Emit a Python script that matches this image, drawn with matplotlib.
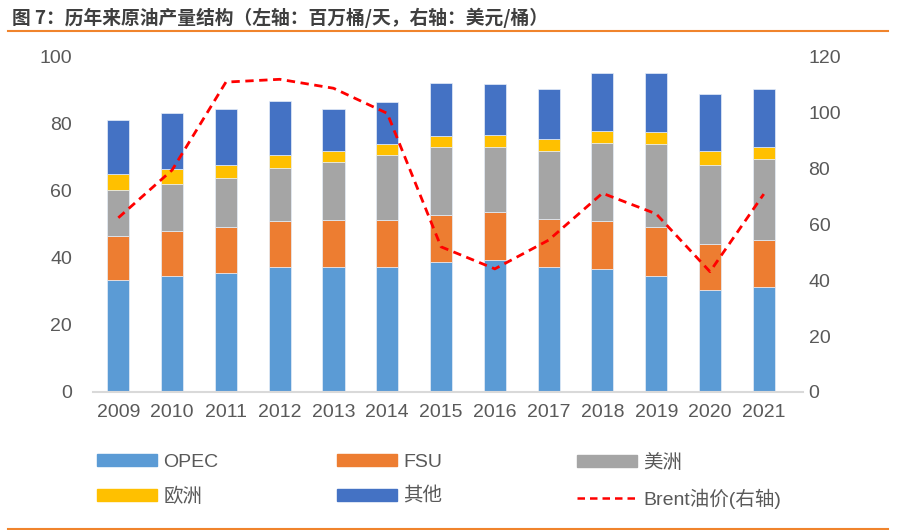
import matplotlib
matplotlib.use("Agg")
import matplotlib.pyplot as plt
from matplotlib.patches import Patch
from matplotlib.lines import Line2D
import numpy as np

plt.rcParams['font.family'] = ['Liberation Sans', 'Noto Sans CJK SC', 'DejaVu Sans']

years = ['2009', '2010', '2011', '2012', '2013', '2014', '2015',
         '2016', '2017', '2018', '2019', '2020', '2021']
opec = [33.3, 34.6, 35.5, 37.4, 37.4, 37.4, 38.9, 39.5, 37.2, 36.6, 34.7, 30.5, 31.4]
fsu = [13.4, 13.6, 13.6, 13.6, 13.9, 14.0, 13.9, 14.1, 14.4, 14.5, 14.6, 13.7, 13.9]
americas = [13.6, 14.0, 14.7, 16.0, 17.3, 19.2, 20.2, 19.5, 20.3, 23.1, 24.8, 23.7, 24.3]
europe = [4.7, 4.4, 4.0, 3.6, 3.3, 3.4, 3.4, 3.5, 3.7, 3.6, 3.6, 3.9, 3.4]
other = [16.2, 16.8, 16.7, 16.4, 12.5, 12.5, 15.8, 15.2, 14.8, 17.4, 17.5, 17.2, 17.3]
brent = [62.4, 79.5, 111.0, 112.0, 108.8, 99.8, 52.0, 44.1, 54.4, 71.2, 63.8, 43.1, 70.9]

series = [('OPEC', opec, '#5b9bd5'),
          ('FSU', fsu, '#ed7d31'),
          ('美洲', americas, '#a5a5a5'),
          ('欧洲', europe, '#ffc000'),
          ('其他', other, '#4472c4')]

txt = '#595959'

fig = plt.figure(figsize=(9.14, 5.30), dpi=100)
ax = fig.add_axes([0.1018, 0.2604, 0.7768, 0.6321])
ax2 = ax.twinx()

x = np.arange(len(years))
bottom = np.zeros(len(years))
for name, vals, col in series:
    ax.bar(x, vals, width=0.41, bottom=bottom, color=col,
           edgecolor='#e6eef8', linewidth=0.5, zorder=2)
    bottom += np.array(vals)

ax2.plot(x, brent, color='#ff0000', linestyle=(0, (3, 2)), linewidth=2, zorder=3)

ax.set_xlim(-0.47, 12.73)
ax.set_ylim(0, 100)
ax2.set_ylim(0, 120)
ax.set_yticks(range(0, 101, 20))
ax2.set_yticks(range(0, 121, 20))
ax.set_xticks(x)
ax.set_xticklabels(years)

for a in (ax, ax2):
    for s in ('top', 'left', 'right', 'bottom'):
        a.spines[s].set_visible(False)
ax.spines['bottom'].set_visible(True)
ax.spines['bottom'].set_color('#d9d9d9')
ax.spines['bottom'].set_linewidth(1.5)

ax.tick_params(axis='y', length=0, pad=15, labelsize=14, labelcolor=txt)
ax.tick_params(axis='x', length=0, pad=9, labelsize=14, labelcolor=txt)
ax2.tick_params(axis='y', length=0, pad=4, labelsize=14, labelcolor=txt)

# legend, one per column
cols = [
    [(Patch(color='#5b9bd5'), 'OPEC'), (Patch(color='#ffc000'), '欧洲')],
    [(Patch(color='#ed7d31'), 'FSU'), (Patch(color='#4472c4'), '其他')],
    [(Patch(color='#a5a5a5'), '美洲'),
     (Line2D([], [], color='#ff0000', linestyle=(0, (3, 2)), linewidth=1.8), 'Brent油价(右轴)')],
]
xs = [97 / 914, 337 / 914, 577 / 914]
for xpos, items in zip(xs, cols):
    fig.legend([h for h, _ in items], [l for _, l in items],
               loc='upper left', bbox_to_anchor=(xpos, 1 - 454 / 530),
               frameon=False, ncol=1, fontsize=14,
               handlelength=3.1, handleheight=0.6, handletextpad=0.3,
               labelspacing=0.86, borderpad=0, borderaxespad=0,
               labelcolor=txt)

fig.text(12 / 914, 1 - 18 / 530,
         '图 7：历年来原油产量结构（左轴：百万桶/天，右轴：美元/桶）',
         fontsize=13.5, fontweight='bold', color='#3f3f3f',
         va='center', ha='left', family=['Noto Sans CJK SC', 'DejaVu Sans'])

fig.add_artist(Line2D([8 / 914, 888 / 914], [1 - 30.5 / 530] * 2,
                      color='#f0842c', linewidth=1.5))
fig.add_artist(Line2D([8 / 914, 888 / 914], [1 - 528.5 / 530] * 2,
                      color='#f0842c', linewidth=1.5))

fig.savefig('out.png', dpi=100)
